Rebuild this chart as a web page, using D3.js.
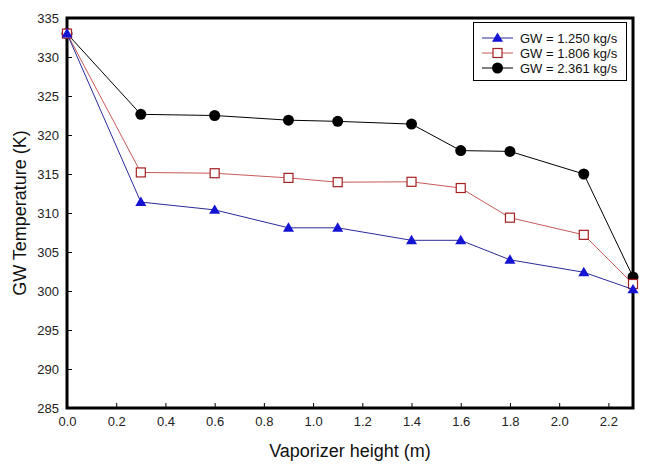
<!DOCTYPE html>
<html>
<head>
<meta charset="utf-8">
<script src="https://cdn.jsdelivr.net/npm/d3@7"></script>
<style>
  html, body { margin: 0; padding: 0; background: #fff; }
  svg { display: block; font-family: Arial, "Liberation Sans", sans-serif; }
</style>
</head>
<body>
<svg id="chart" width="655" height="467"></svg>
<script>
const heights = [0.0, 0.3, 0.6, 0.9, 1.1, 1.4, 1.6, 1.8, 2.1, 2.3];
const gw1250 = [333.0, 311.4, 310.4, 308.1, 308.1, 306.5, 306.5, 304.0, 302.4, 300.2];
const gw1806 = [333.0, 315.2, 315.1, 314.5, 313.95, 314.0, 313.2, 309.4, 307.2, 300.9];
const gw2361 = [333.0, 322.65, 322.5, 321.9, 321.75, 321.4, 318.0, 317.9, 315.0, 301.8];
const seriesNames = ["GW = 1.250 kg/s", "GW = 1.806 kg/s", "GW = 2.361 kg/s"];
const xTicks = [0.0, 0.2, 0.4, 0.6, 0.8, 1.0, 1.2, 1.4, 1.6, 1.8, 2.0, 2.2];
const yTicks = [285, 290, 295, 300, 305, 310, 315, 320, 325, 330, 335];

const svg = d3.select("#chart");
const L = 67, R = 633, T = 18, B = 408;
const x = d3.scaleLinear().domain([0, 2.3]).range([L, R]);
const y = d3.scaleLinear().domain([285, 335]).range([B, T]);

const series = [
  { name: seriesNames[2], values: gw2361, line: "#000000", marker: "circle" },
  { name: seriesNames[1], values: gw1806, line: "#c85a5a", marker: "square" },
  { name: seriesNames[0], values: gw1250, line: "#2a2a9a", marker: "triangle" }
];

// axes
const xAxis = d3.axisBottom(x).tickValues(xTicks).tickSizeInner(-5).tickSizeOuter(0)
  .tickFormat(d3.format(".1f")).tickPadding(9);
const gx = svg.append("g").attr("transform", `translate(0,${B})`).call(xAxis);
gx.select(".domain").remove();
gx.selectAll("line").attr("stroke", "#000").attr("stroke-width", 1);
gx.selectAll("text").attr("font-size", 13).attr("fill", "#222")
  .attr("font-family", "Arial, 'Liberation Sans', sans-serif");

const yAxis = d3.axisLeft(y).tickValues(yTicks).tickSizeInner(-5).tickSizeOuter(0)
  .tickFormat(d3.format("d")).tickPadding(8);
const gy = svg.append("g").attr("transform", `translate(${L},0)`).call(yAxis);
gy.select(".domain").remove();
gy.selectAll("line").attr("stroke", "#000").attr("stroke-width", 1);
gy.selectAll("text").attr("font-size", 13).attr("fill", "#222")
  .attr("font-family", "Arial, 'Liberation Sans', sans-serif");

// frame
svg.append("rect").attr("x", L).attr("y", T).attr("width", R - L).attr("height", B - T)
  .attr("fill", "none").attr("stroke", "#000").attr("stroke-width", 3);

// titles
svg.append("text").attr("x", (L + R) / 2).attr("y", 457).attr("text-anchor", "middle")
  .attr("font-size", 18).attr("fill", "#111").text("Vaporizer height (m)");
svg.append("text").attr("transform", `translate(26,${(T + B) / 2}) rotate(-90)`)
  .attr("text-anchor", "middle").attr("font-size", 18).attr("fill", "#111")
  .text("GW Temperature (K)");

function drawMarker(g, type, cx, cy) {
  if (type === "circle") {
    g.append("circle").attr("cx", cx).attr("cy", cy).attr("r", 5.5).attr("fill", "#000");
  } else if (type === "square") {
    g.append("rect").attr("x", cx - 4.5).attr("y", cy - 4.5).attr("width", 9).attr("height", 9)
      .attr("fill", "#fff").attr("stroke", "#a52020").attr("stroke-width", 1.2);
  } else {
    const s = 5.5;
    g.append("path").attr("d", `M${cx},${cy - s}L${cx + s},${cy + s * 0.7}L${cx - s},${cy + s * 0.7}Z`)
      .attr("fill", "#1414d2");
  }
}

const line = d3.line().x((d, i) => x(heights[i])).y(d => y(d));
series.forEach(s => {
  const g = svg.append("g");
  g.append("path").attr("d", line(s.values)).attr("fill", "none")
    .attr("stroke", s.line).attr("stroke-width", 1);
  s.values.forEach((v, i) => drawMarker(g, s.marker, x(heights[i]), y(v)));
});

// legend
const lg = svg.append("g");
lg.append("rect").attr("x", 473.5).attr("y", 22.5).attr("width", 153).attr("height", 58)
  .attr("fill", "#fff").attr("stroke", "#000").attr("stroke-width", 1);
const legendItems = [
  { name: seriesNames[0], line: "#2a2a9a", marker: "triangle" },
  { name: seriesNames[1], line: "#c85a5a", marker: "square" },
  { name: seriesNames[2], line: "#000000", marker: "circle" }
];
legendItems.forEach((it, i) => {
  const cy = 38 + i * 15;
  lg.append("line").attr("x1", 482).attr("x2", 513).attr("y1", cy).attr("y2", cy)
    .attr("stroke", it.line).attr("stroke-width", 1);
  drawMarker(lg, it.marker, 497.5, cy);
  lg.append("text").attr("x", 520).attr("y", cy + 4.5).attr("font-size", 13)
    .attr("fill", "#111").text(it.name);
});
</script>
</body>
</html>
